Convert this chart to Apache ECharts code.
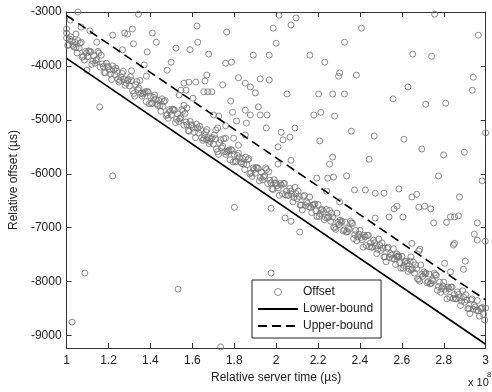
<!DOCTYPE html>
<html>
<head>
<meta charset="utf-8">
<script src="https://cdn.jsdelivr.net/npm/echarts@6/dist/echarts.min.js"></script>
<style>
  html, body { margin: 0; padding: 0; background: #fff; }
  #chart { width: 492px; height: 392px; }
</style>
</head>
<body>
<div id="chart"></div>
<script>
// x in units of 1e8 us, y in us
const xTicks = [1, 1.2, 1.4, 1.6, 1.8, 2, 2.2, 2.4, 2.6, 2.8, 3];
const yTicks = [-9000, -8000, -7000, -6000, -5000, -4000, -3000];

// dense band of offsets
const bandA = [
  [1.00,-3480],[1.01,-3610],[1.02,-3460],[1.03,-3620],[1.04,-3560],[1.05,-3760],[1.06,-3670],[1.07,-3560],[1.08,-3820],[1.09,-3730],
  [1.10,-3830],[1.11,-3730],[1.12,-3970],[1.13,-3810],[1.14,-3900],[1.15,-3730],[1.16,-4020],[1.17,-3960],[1.18,-4120],[1.19,-3950],
  [1.20,-4020],[1.21,-4150],[1.22,-4000],[1.23,-4160],[1.24,-4100],[1.25,-4300],[1.26,-4210],[1.27,-4100],[1.28,-4360],[1.29,-4270],
  [1.30,-4370],[1.31,-4270],[1.32,-4510],[1.33,-4350],[1.34,-4440],[1.35,-4270],[1.36,-4560],[1.37,-4500],[1.38,-4660],[1.39,-4490],
  [1.40,-4560],[1.41,-4690],[1.42,-4540],[1.43,-4700],[1.44,-4640],[1.45,-4840],[1.46,-4750],[1.47,-4640],[1.48,-4900],[1.49,-4810],
  [1.50,-4910],[1.51,-4810],[1.52,-5050],[1.53,-4890],[1.54,-4980],[1.55,-4810],[1.56,-5100],[1.57,-5040],[1.58,-5200],[1.59,-5030],
  [1.60,-5100],[1.61,-5230],[1.62,-5080],[1.63,-5240],[1.64,-5180],[1.65,-5380],[1.66,-5290],[1.67,-5180],[1.68,-5440],[1.69,-5350],
  [1.70,-5450],[1.71,-5350],[1.72,-5590],[1.73,-5430],[1.74,-5520],[1.75,-5350],[1.76,-5640],[1.77,-5580],[1.78,-5740],[1.79,-5570],
  [1.80,-5640],[1.81,-5770],[1.82,-5620],[1.83,-5780],[1.84,-5720],[1.85,-5920],[1.86,-5830],[1.87,-5720],[1.88,-5980],[1.89,-5890],
  [1.90,-5990],[1.91,-5890],[1.92,-6130],[1.93,-5970],[1.94,-6060],[1.95,-5890],[1.96,-6180],[1.97,-6120],[1.98,-6280],[1.99,-6110],
  [2.00,-6180],[2.01,-6260],[2.02,-6180],[2.03,-6370],[2.04,-6180],[2.05,-6320],[2.06,-6400],[2.07,-6320],[2.08,-6520],[2.09,-6250],
  [2.10,-6460],[2.11,-6420],[2.12,-6580],[2.13,-6420],[2.14,-6590],[2.15,-6550],[2.16,-6430],[2.17,-6720],[2.18,-6570],[2.19,-6690],
  [2.20,-6570],[2.21,-6740],[2.22,-6660],[2.23,-6850],[2.24,-6660],[2.25,-6800],[2.26,-6880],[2.27,-6800],[2.28,-7000],[2.29,-6730],
  [2.30,-6940],[2.31,-6900],[2.32,-7060],[2.33,-6900],[2.34,-7070],[2.35,-7030],[2.36,-6910],[2.37,-7200],[2.38,-7050],[2.39,-7170],
  [2.40,-7050],[2.41,-7220],[2.42,-7140],[2.43,-7330],[2.44,-7140],[2.45,-7280],[2.46,-7360],[2.47,-7280],[2.48,-7480],[2.49,-7210],
  [2.50,-7420],[2.51,-7380],[2.52,-7540],[2.53,-7380],[2.54,-7550],[2.55,-7510],[2.56,-7390],[2.57,-7680],[2.58,-7530],[2.59,-7650],
  [2.60,-7530],[2.61,-7700],[2.62,-7620],[2.63,-7810],[2.64,-7620],[2.65,-7760],[2.66,-7840],[2.67,-7760],[2.68,-7960],[2.69,-7690],
  [2.70,-7900],[2.71,-7860],[2.72,-8020],[2.73,-7860],[2.74,-8030],[2.75,-7990],[2.76,-7870],[2.77,-8160],[2.78,-8010],[2.79,-8130],
  [2.80,-8010],[2.81,-8180],[2.82,-8100],[2.83,-8290],[2.84,-8100],[2.85,-8240],[2.86,-8320],[2.87,-8240],[2.88,-8440],[2.89,-8170],
  [2.90,-8380],[2.91,-8340],[2.92,-8500],[2.93,-8340],[2.94,-8510],[2.95,-8470],[2.96,-8350],[2.97,-8640],[2.98,-8490],[2.99,-8610],
  [3.00,-8490]
];
const bandB = [
  [1.005,-3620],[1.025,-3540],[1.045,-3660],[1.065,-3580],[1.085,-3890],[1.105,-3720],[1.125,-3910],[1.145,-3880],[1.165,-3800],[1.185,-4130],
  [1.205,-4070],[1.225,-4070],[1.245,-4250],[1.265,-4140],[1.285,-4320],[1.305,-4200],[1.325,-4560],[1.345,-4410],[1.365,-4520],[1.385,-4470],
  [1.405,-4700],[1.425,-4620],[1.445,-4740],[1.465,-4660],[1.485,-4970],[1.505,-4800],[1.525,-4990],[1.545,-4960],[1.565,-4880],[1.585,-5210],
  [1.605,-5150],[1.625,-5150],[1.645,-5330],[1.665,-5220],[1.685,-5400],[1.705,-5280],[1.725,-5640],[1.745,-5490],[1.765,-5600],[1.785,-5550],
  [1.805,-5780],[1.825,-5700],[1.845,-5820],[1.865,-5740],[1.885,-6050],[1.905,-5880],[1.925,-6070],[1.945,-6040],[1.965,-5960],[1.985,-6290],
  [2.005,-6220],[2.025,-6210],[2.045,-6390],[2.065,-6270],[2.085,-6440],[2.105,-6320],[2.125,-6670],[2.145,-6520],[2.165,-6620],[2.185,-6560],
  [2.205,-6790],[2.225,-6700],[2.245,-6820],[2.265,-6730],[2.285,-7030],[2.305,-6860],[2.325,-7040],[2.345,-7010],[2.365,-6920],[2.385,-7240],
  [2.405,-7180],[2.425,-7170],[2.445,-7350],[2.465,-7230],[2.485,-7400],[2.505,-7280],[2.525,-7630],[2.545,-7480],[2.565,-7580],[2.585,-7520],
  [2.605,-7750],[2.625,-7660],[2.645,-7780],[2.665,-7690],[2.685,-7990],[2.705,-7820],[2.725,-8000],[2.745,-7970],[2.765,-7880],[2.785,-8200],
  [2.805,-8140],[2.825,-8130],[2.845,-8310],[2.865,-8190],[2.885,-8360],[2.905,-8240],[2.925,-8590],[2.945,-8440],[2.965,-8540],[2.985,-8480]
];
const bandC = [
  [1.015,-3500],[1.035,-3650],[1.055,-3530],[1.075,-3840],[1.095,-3760],[1.115,-3740],[1.135,-3950],[1.155,-3760],[1.175,-4010],[1.195,-4010],
  [1.215,-4250],[1.235,-4040],[1.255,-4270],[1.275,-4250],[1.295,-4250],[1.315,-4460],[1.335,-4290],[1.355,-4510],[1.375,-4480],[1.395,-4700],
  [1.415,-4580],[1.435,-4730],[1.455,-4610],[1.475,-4920],[1.495,-4840],[1.515,-4820],[1.535,-5030],[1.555,-4840],[1.575,-5090],[1.595,-5090],
  [1.615,-5330],[1.635,-5120],[1.655,-5350],[1.675,-5330],[1.695,-5330],[1.715,-5540],[1.735,-5370],[1.755,-5590],[1.775,-5560],[1.795,-5780],
  [1.815,-5660],[1.835,-5810],[1.855,-5690],[1.875,-6000],[1.895,-5920],[1.915,-5900],[1.935,-6110],[1.955,-5920],[1.975,-6170],[1.995,-6170],
  [2.015,-6400],[2.035,-6180],[2.055,-6400],[2.075,-6380],[2.095,-6370],[2.115,-6580],[2.135,-6400],[2.155,-6610],[2.175,-6580],[2.195,-6790],
  [2.215,-6670],[2.235,-6810],[2.255,-6680],[2.275,-6990],[2.295,-6900],[2.315,-6880],[2.335,-7080],[2.355,-6880],[2.375,-7130],[2.395,-7120],
  [2.415,-7360],[2.435,-7140],[2.455,-7360],[2.475,-7340],[2.495,-7330],[2.515,-7540],[2.535,-7360],[2.555,-7570],[2.575,-7540],[2.595,-7750],
  [2.615,-7630],[2.635,-7770],[2.655,-7640],[2.675,-7950],[2.695,-7860],[2.715,-7840],[2.735,-8040],[2.755,-7840],[2.775,-8090],[2.795,-8080],
  [2.815,-8320],[2.835,-8100],[2.855,-8320],[2.875,-8300],[2.895,-8290],[2.915,-8500],[2.935,-8320],[2.955,-8530],[2.975,-8500],[2.995,-8710]
];
// scattered offsets away from the band
const outliers = [
  [1.054,-3000],[1.343,-3040],[1.017,-3150],[1.0,-3315],[1.0,-3390],[1.069,-3280],[1.111,-3350],[1.045,-3410],[1.220,-3430],[1.277,-3390],
  [1.291,-3410],[1.314,-3315],[1.319,-3590],[1.409,-3390],[1.428,-3560],[1.144,-3560],[1.267,-3700],[1.385,-3740],[1.522,-3670],[1.589,-3700],
  [1.622,-3260],[1.626,-3560],[1.678,-3780],[1.764,-3370],[1.759,-3950],[1.787,-3930],[1.499,-3930],[1.371,-3980],[1.381,-4190],[1.310,-4090],
  [1.480,-4080],[1.097,-4080],[1.158,-4760],[1.220,-6040],[1.087,-7840],[1.026,-8750],[1.801,-6620],[1.976,-6640],[1.976,-7840],[1.532,-8140],
  [1.735,-9210],[1.891,-3800],[1.967,-3800],[1.986,-3300],[1.669,-4170],[1.660,-4280],[1.560,-4320],[1.584,-4300],[1.745,-4350],[1.820,-4220],
  [1.853,-4320],[1.877,-4390],[1.901,-4500],[1.924,-4240],[1.967,-4260],[1.655,-4480],[1.674,-4480],[1.693,-4480],[1.537,-4540],[1.570,-4450],
  [1.603,-4600],[1.560,-4730],[1.574,-4780],[1.783,-4650],[1.792,-4860],[1.853,-4820],[1.877,-4910],[1.915,-4760],[1.924,-4910],[1.957,-4910],
  [1.726,-4930],[1.953,-5150],[1.712,-5190],[1.759,-5110],[1.759,-5340],[1.797,-5340],[1.669,-5370],[1.820,-5470],[1.853,-5280],[1.811,-5020],
  [1.858,-5060],[1.702,-4910],[1.721,-5150],[1.617,-4300],[1.546,-4450],
  [2.014,-3060],[2.071,-3240],[2.095,-3110],[2.000,-3580],[2.407,-3300],[2.326,-3560],[2.161,-3800],[2.232,-3930],[2.303,-4130],[2.298,-4190],
  [2.383,-4170],[2.757,-3040],[2.965,-3430],[2.652,-3780],[2.742,-3820],[2.941,-4210],[2.936,-4450],[2.629,-4390],[2.558,-4610],[2.714,-4710],
  [2.809,-4690],[2.052,-4520],[2.203,-4520],[2.270,-4520],[2.326,-4520],[2.180,-4910],[2.213,-4860],[2.279,-4930],[2.024,-5230],[2.033,-5370],
  [2.066,-5320],[2.090,-5150],[2.009,-5500],[2.208,-5390],[2.359,-5210],[2.468,-5300],[2.610,-5360],[2.695,-5540],[2.799,-5650],[2.898,-5600],
  [3.0,-5240],[2.444,-5730],[2.270,-5690],[2.255,-5820],[2.071,-5750],[2.009,-5820],[2.775,-6040],[2.983,-6130],[2.336,-6040],[2.246,-6080],
  [2.274,-6060],[2.194,-6080],[2.374,-6300],[2.426,-6300],[2.473,-6360],[2.515,-6360],[2.586,-6280],[2.648,-6430],[2.671,-6380],[2.875,-6430],
  [2.241,-6320],[2.681,-6620],[2.709,-6600],[2.738,-6650],[2.563,-6650],[2.577,-6600],[2.539,-6800],[2.605,-6800],[2.473,-6820],[2.752,-6910],
  [2.813,-6900],[2.832,-6800],[2.851,-6800],[2.870,-6780],[2.960,-6910],[2.946,-7120],[2.960,-7230],[2.998,-7250],[2.846,-7320],[2.851,-7290],
  [2.648,-7290],[2.686,-7400],[2.681,-7430],[2.643,-7540],[2.804,-7660],[2.903,-7620],[2.894,-7770],[2.832,-7820],[2.577,-7490],[2.586,-7540],
  [2.043,-6820],[2.071,-6880],[2.113,-7080],[2.303,-6520]
];
const lowerBound = [[1, -3860], [3, -9160]];
const upperBound = [[1, -3065], [3, -8340]];

const font = "'Liberation Sans', Arial, sans-serif";
const axisColor = "#333";
const markColor = "#707070";

const baseX = {
  type: "value",
  min: 1,
  max: 3,
  splitLine: { show: false },
  axisLine: { onZero: false, lineStyle: { color: axisColor, width: 1 } },
  axisTick: { inside: true, length: 5, customValues: xTicks, lineStyle: { color: axisColor } },
};
const baseY = {
  type: "value",
  min: -9230,
  max: -3000,
  splitLine: { show: false },
  axisLine: { onZero: false, lineStyle: { color: axisColor, width: 1 } },
  axisTick: { inside: true, length: 5, customValues: yTicks, lineStyle: { color: axisColor } },
};
// hide the marker that echarts puts in the middle of a line legend icon
const noMarker = { color: "rgba(0,0,0,0)", borderWidth: 0, opacity: 0 };

const chart = echarts.init(document.getElementById("chart"));
chart.setOption({
  animation: false,
  backgroundColor: "#fff",
  grid: { left: 66, right: 1, top: 12, bottom: 44 },
  xAxis: [
    Object.assign({}, baseX, {
      position: "bottom",
      name: "Relative server time (\u00b5s)",
      nameLocation: "middle",
      nameGap: 24,
      nameTextStyle: { fontFamily: font, fontSize: 12, color: "#222" },
      axisLabel: {
        customValues: xTicks,
        margin: 7,
        fontFamily: font,
        fontSize: 12,
        color: "#222",
        formatter: (v) => String(+v.toFixed(1)),
      },
    }),
    Object.assign({}, baseX, { position: "top", axisLabel: { show: false } }),
  ],
  yAxis: [
    Object.assign({}, baseY, {
      position: "left",
      name: "Relative offset (\u00b5s)",
      nameLocation: "middle",
      nameGap: 40,
      nameTextStyle: { fontFamily: font, fontSize: 12, color: "#222" },
      axisLabel: {
        customValues: yTicks,
        margin: 5,
        fontFamily: font,
        fontSize: 12,
        color: "#222",
        formatter: (v) => String(v),
      },
    }),
    Object.assign({}, baseY, { position: "right", axisLabel: { show: false } }),
  ],
  legend: {
    orient: "vertical",
    left: 252,
    top: 280,
    padding: [6, 8, 6, 5],
    itemWidth: 40,
    itemHeight: 7,
    itemGap: 5,
    backgroundColor: "#fff",
    borderColor: "#222",
    borderWidth: 1,
    borderRadius: 0,
    textStyle: { fontFamily: font, fontSize: 12, color: "#222" },
    data: [
      { name: "Offset", itemStyle: { color: "rgba(0,0,0,0)", borderColor: markColor, borderWidth: 1 } },
      { name: "Lower-bound", itemStyle: noMarker },
      { name: "Upper-bound", itemStyle: noMarker },
    ],
  },
  graphic: [
    { type: "text", left: 468, top: 377, style: { text: "x 10", font: "11px " + font, fill: "#222" } },
    { type: "text", left: 487, top: 371, style: { text: "8", font: "8px " + font, fill: "#222" } },
  ],
  series: [
    {
      name: "Offset",
      type: "scatter",
      symbol: "circle",
      symbolSize: 6,
      itemStyle: { color: "rgba(0,0,0,0)", borderColor: markColor, borderWidth: 1 },
      data: bandA.concat(bandB, bandC, outliers),
    },
    {
      name: "Lower-bound",
      type: "line",
      symbol: "none",
      lineStyle: { color: "#000", width: 1.6, type: "solid" },
      itemStyle: { color: "#000" },
      data: lowerBound,
    },
    {
      name: "Upper-bound",
      type: "line",
      symbol: "none",
      lineStyle: { color: "#000", width: 1.6, type: [9, 5] },
      itemStyle: { color: "#000" },
      data: upperBound,
    },
  ],
});
</script>
</body>
</html>
